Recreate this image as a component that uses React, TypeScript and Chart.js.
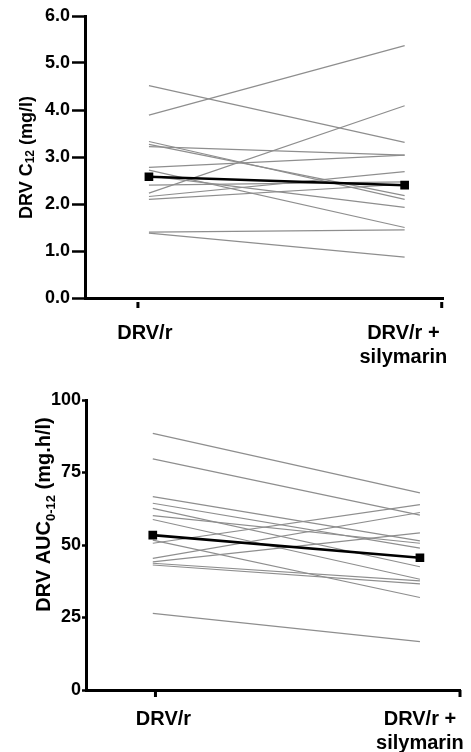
import React, { useEffect, useRef } from "react";
import { Chart, registerables } from "chart.js";
Chart.register(...registerables);

// ---- data ----
const categories: (string | string[])[] = ["DRV/r", ["DRV/r +", "silymarin"]];

const c12Before = [4.52, 3.89, 3.33, 3.27, 3.22, 2.78, 2.72, 2.6, 2.4, 2.23, 2.16, 2.1, 1.4, 1.38];
const c12After = [3.31, 5.37, 2.1, 2.18, 3.04, 3.04, 1.5, 1.93, 2.47, 4.09, 2.69, 2.42, 1.45, 0.87];
const c12Mean = [2.58, 2.4];
const c12Ticks = [0, 1, 2, 3, 4, 5, 6];

const aucBefore = [88.5, 79.7, 66.7, 64.4, 62.6, 60.1, 58.8, 51.7, 50.6, 45.4, 44.2, 43.7, 43.1, 26.4];
const aucAfter = [68.0, 60.3, 51.4, 48.9, 42.5, 50.6, 38.2, 31.9, 63.9, 61.2, 54.2, 37.6, 36.6, 16.7];
const aucMean = [53.4, 45.6];
const aucTicks = [0, 25, 50, 75, 100];

const FONT = '"Liberation Sans", Arial, Helvetica, sans-serif';

type Part = { text: string; size: number; dy: number };

function makeConfig(o: any) {
  const datasets: any[] = [
    {
      data: [{ x: 0, y: o.mean[0] }, { x: 1, y: o.mean[1] }],
      borderColor: "#000",
      backgroundColor: "#000",
      borderWidth: 2.6,
      pointStyle: "rect",
      pointRadius: 4.3,
      showLine: true,
    },
    ...o.before.map((b: number, i: number) => ({
      data: [{ x: 0, y: b }, { x: 1, y: o.after[i] }],
      borderColor: "#8e8e8e",
      borderWidth: 1.2,
      pointRadius: 0,
      showLine: true,
    })),
  ];

  const decor = {
    id: "decor",
    afterDraw(chart: any) {
      const ctx = chart.ctx;
      const xs = chart.scales.x;
      const area = chart.chartArea;
      ctx.save();
      ctx.fillStyle = "#000";
      for (const v of o.tickMarksAt) {
        const px = xs.getPixelForValue(v);
        ctx.fillRect(px - 1.5, area.bottom + o.tickGap, 3, o.tickLen);
      }
      ctx.translate(o.title.x, o.title.y);
      ctx.rotate(-Math.PI / 2);
      ctx.textBaseline = "alphabetic";
      ctx.textAlign = "left";
      let total = 0;
      const widths: number[] = [];
      for (const p of o.title.parts as Part[]) {
        ctx.font = `bold ${p.size}px ${FONT}`;
        const w = ctx.measureText(p.text).width;
        widths.push(w);
        total += w;
      }
      let cx = -total / 2;
      (o.title.parts as Part[]).forEach((p, i) => {
        ctx.font = `bold ${p.size}px ${FONT}`;
        ctx.fillText(p.text, cx, p.dy);
        cx += widths[i];
      });
      ctx.restore();
    },
  };

  return {
    type: "scatter",
    data: { datasets },
    plugins: [decor],
    options: {
      animation: false,
      responsive: false,
      devicePixelRatio: 1,
      layout: { padding: o.padding },
      plugins: { legend: { display: false }, tooltip: { enabled: false } },
      scales: {
        x: {
          type: "linear",
          min: -0.25,
          max: 1.15,
          grid: { display: false, drawTicks: false },
          border: { display: true, color: "#000", width: 3 },
          afterBuildTicks: (s: any) => {
            s.ticks = o.labelAt.map((v: number) => ({ value: v }));
          },
          afterFit: (s: any) => {
            s.height = o.xHeight;
            s.paddingLeft = 0;
            s.paddingRight = 0;
          },
          ticks: {
            autoSkip: false,
            maxRotation: 0,
            minRotation: 0,
            padding: o.xLabelPad,
            color: "#000",
            font: { family: FONT, size: 20, weight: "bold", lineHeight: 1.2 },
            callback: (_v: any, i: number) => categories[i],
          },
        },
        y: {
          type: "linear",
          min: o.ticks[0],
          max: o.ticks[o.ticks.length - 1],
          afterBuildTicks: (s: any) => {
            s.ticks = o.ticks.map((v: number) => ({ value: v }));
          },
          afterFit: (s: any) => {
            s.width = o.yWidth;
            s.paddingTop = 0;
            s.paddingBottom = 0;
          },
          grid: {
            display: true,
            drawOnChartArea: false,
            drawTicks: true,
            tickLength: o.yTickLen,
            tickWidth: 2.5,
            tickColor: "#000",
          },
          border: { display: true, color: "#000", width: 3 },
          ticks: {
            padding: o.yTickPad,
            color: "#000",
            font: { family: FONT, size: 18, weight: "bold" },
            callback: (v: number) => o.fmt(v),
          },
        },
      },
    },
  } as any;
}

const topConfig = () =>
  makeConfig({
    before: c12Before,
    after: c12After,
    mean: c12Mean,
    ticks: c12Ticks,
    fmt: (v: number) => v.toFixed(1),
    yTickLen: 13,
    yTickPad: 2,
    yWidth: 85,
    xHeight: 77,
    xLabelPad: 23,
    labelAt: [-0.016, 0.995],
    tickMarksAt: [-0.043, 1.145],
    tickGap: 4,
    tickLen: 6,
    padding: { top: 16, right: 28, left: 0, bottom: 0 },
    title: {
      x: 32,
      y: 157.5,
      parts: [
        { text: "DRV C", size: 18, dy: 0 },
        { text: "12", size: 12, dy: 2 },
        { text: " (mg/l)", size: 18, dy: 0 },
      ],
    },
  });

const bottomConfig = () =>
  makeConfig({
    before: aucBefore,
    after: aucAfter,
    mean: aucMean,
    ticks: aucTicks,
    fmt: (v: number) => String(v),
    yTickLen: 4,
    yTickPad: 1,
    yWidth: 86,
    xHeight: 62,
    xLabelPad: 17,
    labelAt: [0.04, 1.0],
    tickMarksAt: [0.01, 1.15],
    tickGap: 0,
    tickLen: 7,
    padding: { top: 25, right: 11, left: 0, bottom: 0 },
    title: {
      x: 50,
      y: 139.5,
      parts: [
        { text: "DRV AUC", size: 20, dy: 0 },
        { text: "0-12", size: 13, dy: 5 },
        { text: " (mg.h/l)", size: 20, dy: 0 },
      ],
    },
  });

export default function App() {
  const topRef = useRef<HTMLCanvasElement>(null);
  const botRef = useRef<HTMLCanvasElement>(null);

  useEffect(() => {
    const a = new Chart(topRef.current as HTMLCanvasElement, topConfig());
    const b = new Chart(botRef.current as HTMLCanvasElement, bottomConfig());
    return () => {
      a.destroy();
      b.destroy();
    };
  }, []);

  return (
    <div style={{ position: "absolute", left: 0, top: 0, width: 471, height: 752, background: "#fff", overflow: "hidden" }}>
      <canvas ref={topRef} width={471} height={375} style={{ display: "block", width: 471, height: 375 }} />
      <canvas ref={botRef} width={471} height={377} style={{ display: "block", width: 471, height: 377 }} />
    </div>
  );
}
